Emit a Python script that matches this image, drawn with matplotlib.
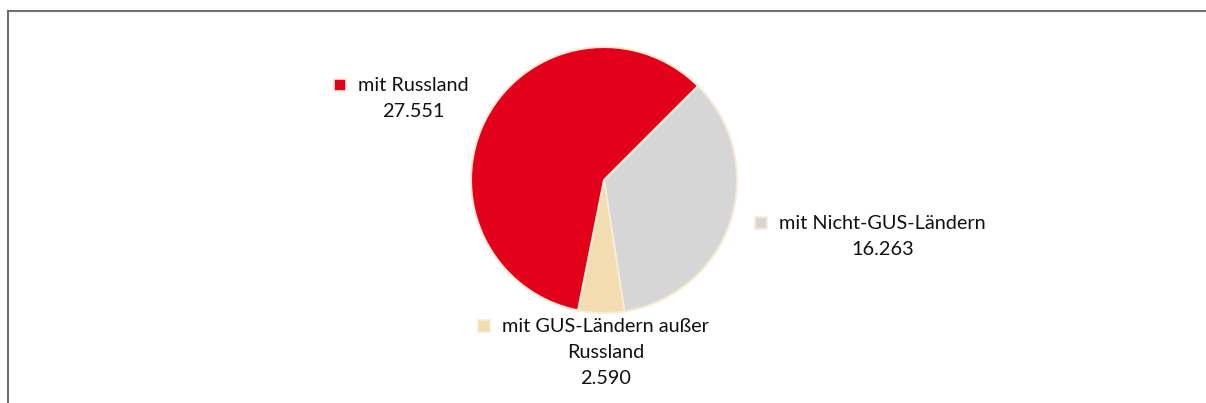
import matplotlib.pyplot as plt
from matplotlib.lines import Line2D

# --- data ---
labels = ['mit Nicht-GUS-Ländern', 'mit GUS-Ländern außer\nRussland', 'mit Russland']
values = [16263, 2590, 27551]
value_text = ['16.263', '2.590', '27.551']
colors = ['#d6d6d6', '#f2dcb0', '#e2001a']

# label anchors in pixel coords (x of square, y of first text line)
label_pos = [(761, 223), (484, 326), (340, 85)]

W, H = 1206, 403
fig = plt.figure(figsize=(W / 100, H / 100), dpi=100)
ax = fig.add_axes([0, 0, 1, 1])

ax.pie(values, colors=colors, startangle=45, counterclock=False,
       center=(604, H - 180), radius=133, frame=True,
       wedgeprops=dict(edgecolor='#f6ecd2', linewidth=1.5))
ax.set_xlim(0, W)
ax.set_ylim(0, H)
ax.set_aspect('equal')
ax.axis('off')

font = ['Lato', 'DejaVu Sans']
for lab, vt, col, (sx, sy) in zip(labels, value_text, colors, label_pos):
    ax.scatter([sx], [H - sy], marker='s', s=70, color=col,
               edgecolors='#f6ecd2', linewidths=1.2, zorder=5)
    ax.text(sx + 18, H - sy + 8, lab + '\n' + vt, ha='left', va='top',
            fontsize=14.3, family=font, color='#111111', linespacing=1.65,
            multialignment='center')

# chart frame lines (top and left, as in the clipped screenshot)
fig.add_artist(Line2D([8 / W, 1], [1 - 11 / H, 1 - 11 / H], color='#707070', lw=1.5))
fig.add_artist(Line2D([8 / W, 8 / W], [0, 1 - 11 / H], color='#707070', lw=1.5))

fig.savefig('out.png', dpi=100)
